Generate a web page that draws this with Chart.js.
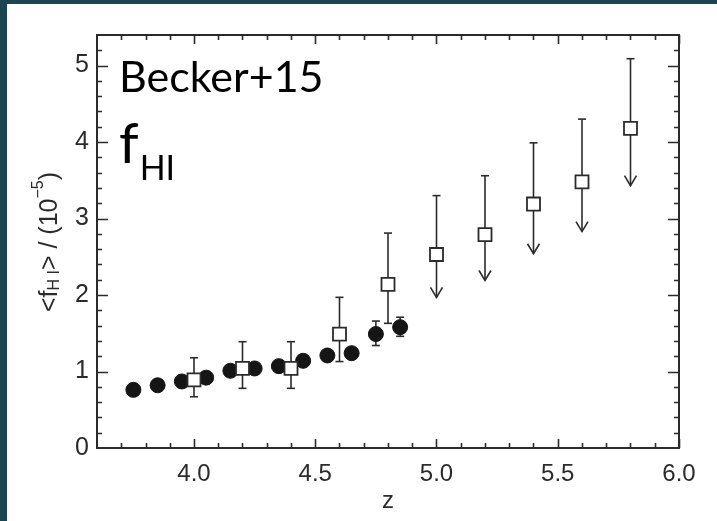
<!DOCTYPE html>
<html>
<head>
<meta charset="utf-8">
<script src="https://cdn.jsdelivr.net/npm/chart.js@4.4.0/dist/chart.umd.min.js"></script>
<style>
  html, body { margin: 0; padding: 0; background: #1c4452; }
  #wrap { position: absolute; left: 0; top: 0; width: 717px; height: 521px; }
</style>
</head>
<body>
<div id="wrap"><canvas id="fhiChart" width="717" height="521"></canvas></div>
<script>
// Becker+15 mean neutral fraction vs redshift
const circleZ = [3.75, 3.85, 3.95, 4.05, 4.15, 4.25, 4.35, 4.45, 4.55, 4.65, 4.75, 4.85];
const circleF = [0.76, 0.82, 0.87, 0.92, 1.01, 1.04, 1.07, 1.14, 1.21, 1.24, 1.49, 1.58];
const circleLo = [null, null, null, null, null, null, null, null, null, null, 1.34, 1.46];
const circleHi = [null, null, null, null, null, null, null, null, null, null, 1.66, 1.71];

const squareZ = [4.0, 4.2, 4.4, 4.6, 4.8, 5.0, 5.2, 5.4, 5.6, 5.8];
const squareF = [0.89, 1.04, 1.04, 1.49, 2.14, 2.53, 2.79, 3.19, 3.48, 4.18];
const squareHi = [1.18, 1.39, 1.39, 1.97, 2.81, 3.30, 3.56, 3.99, 4.30, 5.09];
const squareLo = [0.67, 0.78, 0.78, 1.13, 1.63, 1.97, 2.19, 2.54, 2.83, 3.43];
const squareUpperLimit = [false, false, false, false, false, true, true, true, true, true];

const xTicks = [4.0, 4.5, 5.0, 5.5, 6.0];
const xTickLabels = ["4.0", "4.5", "5.0", "5.5", "6.0"];
const yTicks = [0, 1, 2, 3, 4, 5];
const yTickLabels = ["0", "1", "2", "3", "4", "5"];

const INK = "#2b2b2b";
const AXIS_FONT = "'Liberation Sans', Arial, Helvetica, sans-serif";

// slide background + white figure panel
const backdrop = {
  id: "backdrop",
  beforeDraw(chart) {
    const ctx = chart.ctx;
    ctx.save();
    ctx.fillStyle = "#1c4452";
    ctx.fillRect(0, 0, chart.width, chart.height);
    ctx.fillStyle = "#ffffff";
    ctx.fillRect(7, 4, chart.width - 7, chart.height - 4);
    ctx.restore();
  }
};

// error bars (caps + arrows for upper limits), drawn under the markers
const errorBars = {
  id: "errorBars",
  beforeDatasetsDraw(chart) {
    const ctx = chart.ctx;
    const xs = chart.scales.x, ys = chart.scales.y;
    ctx.save();
    ctx.strokeStyle = INK;
    ctx.lineWidth = 1.6;

    function cap(x, y) {
      ctx.beginPath();
      ctx.moveTo(x - 4, y);
      ctx.lineTo(x + 4, y);
      ctx.stroke();
    }
    function arrow(x, y) {
      ctx.beginPath();
      ctx.moveTo(x - 6, y - 10);
      ctx.lineTo(x, y);
      ctx.lineTo(x + 6, y - 10);
      ctx.stroke();
    }
    function bar(z, lo, hi, limit) {
      const x = xs.getPixelForValue(z);
      const y1 = ys.getPixelForValue(lo);
      const y2 = ys.getPixelForValue(hi);
      ctx.beginPath();
      ctx.moveTo(x, y1);
      ctx.lineTo(x, y2);
      ctx.stroke();
      cap(x, y2);
      if (limit) arrow(x, y1); else cap(x, y1);
    }

    circleZ.forEach((z, i) => {
      if (circleLo[i] !== null) bar(z, circleLo[i], circleHi[i], false);
    });
    squareZ.forEach((z, i) => bar(z, squareLo[i], squareHi[i], squareUpperLimit[i]));
    ctx.restore();
  }
};

// IDL style frame with inward ticks on all four sides
const frame = {
  id: "frame",
  afterDraw(chart) {
    const ctx = chart.ctx;
    const a = chart.chartArea;
    const xs = chart.scales.x, ys = chart.scales.y;
    ctx.save();
    ctx.strokeStyle = INK;
    ctx.lineWidth = 2;
    ctx.strokeRect(a.left, a.top, a.right - a.left, a.bottom - a.top);

    ctx.lineWidth = 1.6;
    ctx.beginPath();
    for (let v = 3.7; v < 6.0; v += 0.1) {
      const major = xTicks.some(t => Math.abs(t - v) < 1e-6);
      const len = major ? 9 : 5;
      const x = Math.round(xs.getPixelForValue(v)) + 0.5;
      ctx.moveTo(x, a.bottom); ctx.lineTo(x, a.bottom - len);
      ctx.moveTo(x, a.top); ctx.lineTo(x, a.top + len);
    }
    for (let v = 0.2; v < 5.4; v += 0.2) {
      const major = yTicks.some(t => Math.abs(t - v) < 1e-6);
      const len = major ? 11 : 5;
      const y = Math.round(ys.getPixelForValue(v)) + 0.5;
      ctx.moveTo(a.left, y); ctx.lineTo(a.left + len, y);
      ctx.moveTo(a.right, y); ctx.lineTo(a.right - len, y);
    }
    ctx.stroke();

    // y axis title: <f_HI> / (10^-5)
    ctx.fillStyle = INK;
    ctx.translate(50, 242);
    ctx.rotate(-Math.PI / 2);
    const big = "25px " + AXIS_FONT, small = "16px " + AXIS_FONT;
    const parts = [
      { t: "<f", f: big, dy: 0 },
      { t: "H I", f: small, dy: 5 },
      { t: "> / (10", f: big, dy: 0 },
      { t: "\u22125", f: small, dy: -11 },
      { t: ")", f: big, dy: 0 }
    ];
    let total = 0;
    parts.forEach(p => { ctx.font = p.f; total += ctx.measureText(p.t).width; });
    let cx = -total / 2;
    ctx.textBaseline = "middle";
    ctx.textAlign = "left";
    parts.forEach(p => {
      ctx.font = p.f;
      ctx.fillText(p.t, cx, p.dy);
      cx += ctx.measureText(p.t).width;
    });
    ctx.restore();

    // slide annotation
    ctx.save();
    ctx.fillStyle = "#000000";
    ctx.textAlign = "left";
    ctx.textBaseline = "alphabetic";
    ctx.font = "43px Lato, 'Open Sans', sans-serif";
    ctx.fillText("Becker+15", 119, 92);
    ctx.font = "56px Lato, 'Open Sans', sans-serif";
    ctx.fillText("f", 119, 163);
    const fw = ctx.measureText("f").width;
    ctx.font = "34px Lato, 'Open Sans', sans-serif";
    ctx.fillText("HI", 119 + fw + 1, 180);
    ctx.restore();
  }
};

new Chart(document.getElementById("fhiChart"), {
  type: "scatter",
  data: {
    datasets: [
      {
        label: "z > 4 (squares)",
        data: squareZ.map((z, i) => ({ x: z, y: squareF[i] })),
        pointStyle: "rect",
        pointRadius: 9.2,
        pointBackgroundColor: "#ffffff",
        pointBorderColor: INK,
        pointBorderWidth: 1.8
      },
      {
        label: "circles",
        data: circleZ.map((z, i) => ({ x: z, y: circleF[i] })),
        pointStyle: "circle",
        pointRadius: 7.5,
        pointBackgroundColor: "#151515",
        pointBorderColor: "#151515",
        pointBorderWidth: 1
      }
    ]
  },
  options: {
    responsive: false,
    devicePixelRatio: 1,
    animation: false,
    layout: { padding: { left: 0, top: 35, right: 38, bottom: 0 } },
    plugins: {
      legend: { display: false },
      tooltip: { enabled: false }
    },
    scales: {
      x: {
        type: "linear",
        min: 3.6,
        max: 6.0,
        afterBuildTicks(scale) { scale.ticks = xTicks.map(v => ({ value: v })); },
        afterFit(scale) { scale.height = 73; },
        grid: { display: false, drawTicks: false },
        border: { display: false },
        ticks: {
          padding: 12,
          color: INK,
          font: { family: AXIS_FONT, size: 24 },
          callback: (v) => xTickLabels[xTicks.indexOf(v)] ?? ""
        },
        title: {
          display: true,
          text: "z",
          color: INK,
          font: { family: AXIS_FONT, size: 24 },
          padding: { top: 0, bottom: 5 }
        }
      },
      y: {
        type: "linear",
        min: 0,
        max: 5.4,
        afterBuildTicks(scale) { scale.ticks = yTicks.map(v => ({ value: v })); },
        afterFit(scale) { scale.width = 97; },
        grid: { display: false, drawTicks: false },
        border: { display: false },
        ticks: {
          padding: 8,
          color: INK,
          font: { family: AXIS_FONT, size: 25 },
          callback: (v) => yTickLabels[yTicks.indexOf(v)] ?? ""
        }
      }
    }
  },
  plugins: [backdrop, errorBars, frame]
});
</script>
</body>
</html>
